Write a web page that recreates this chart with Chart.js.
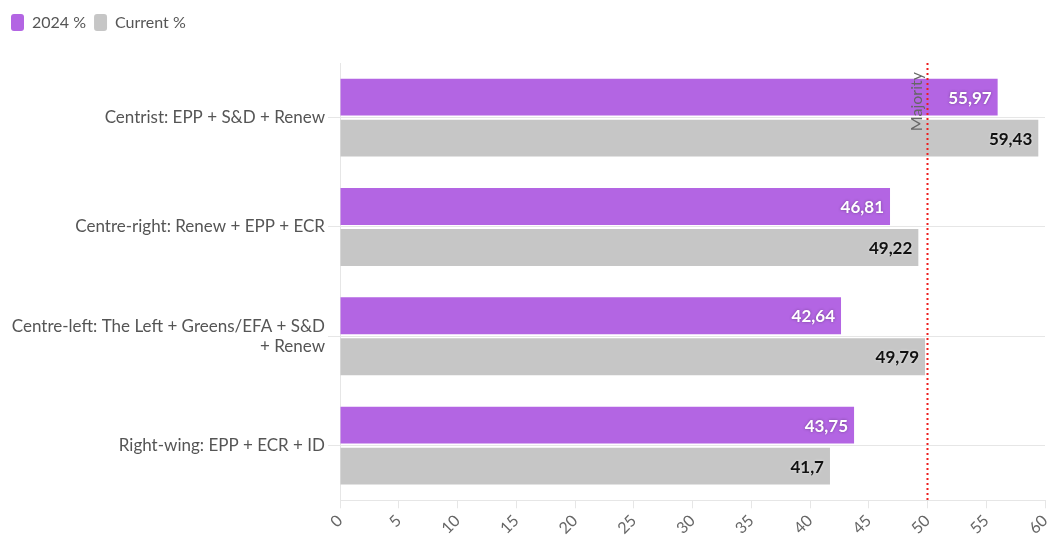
<!DOCTYPE html>
<html>
<head>
<meta charset="utf-8">
<script src="https://cdn.jsdelivr.net/npm/chart.js@4"></script>
<style>
  html, body { margin: 0; padding: 0; background: #fff; }
  #wrap { width: 1051px; height: 547px; position: relative; }
</style>
</head>
<body>
<div id="wrap"><canvas id="chart"></canvas></div>
<script>
const categories = [
  'Centrist: EPP + S&D + Renew',
  'Centre-right: Renew + EPP + ECR',
  ['Centre-left: The Left + Greens/EFA + S&D', '+ Renew'],
  'Right-wing: EPP + ECR + ID'
];
const values2024 = [55.97, 46.81, 42.64, 43.75];
const valuesCurrent = [59.43, 49.22, 49.79, 41.7];
const majority = 50;

const fmt = v => String(v).replace('.', ',');

// value labels inside the bar ends
const barLabels = {
  id: 'barLabels',
  afterDatasetsDraw(chart) {
    const ctx = chart.ctx;
    ctx.save();
    ctx.font = 'bold 17px Lato';
    ctx.textAlign = 'right';
    ctx.textBaseline = 'middle';
    chart.data.datasets.forEach((ds, i) => {
      chart.getDatasetMeta(i).data.forEach((bar, j) => {
        if (i === 0) {
          ctx.fillStyle = '#ffffff';
          ctx.shadowColor = 'rgba(0,0,0,0.35)';
          ctx.shadowBlur = 3;
        } else {
          ctx.fillStyle = '#111111';
          ctx.shadowColor = 'rgba(255,255,255,0.6)';
          ctx.shadowBlur = 3;
        }
        ctx.fillText(fmt(ds.data[j]), bar.x - 6, bar.y + 1);
      });
    });
    ctx.restore();
  }
};

// dotted red majority line
const majorityLine = {
  id: 'majorityLine',
  afterDatasetsDraw(chart) {
    const ctx = chart.ctx;
    const x = chart.scales.x.getPixelForValue(majority);
    const area = chart.chartArea;
    ctx.save();
    ctx.strokeStyle = '#ee1c1c';
    ctx.lineWidth = 2;
    ctx.setLineDash([2, 3]);
    ctx.beginPath();
    ctx.moveTo(x, area.top);
    ctx.lineTo(x, area.bottom);
    ctx.stroke();
    ctx.setLineDash([]);
    ctx.translate(x - 3, area.top + 9);
    ctx.rotate(-Math.PI / 2);
    ctx.font = '16px Lato';
    ctx.fillStyle = '#666';
    ctx.textAlign = 'right';
    ctx.textBaseline = 'bottom';
    ctx.fillText('Majority', 0, 0);
    ctx.restore();
  }
};

// extra room under the legend
const legendGap = {
  id: 'legendGap',
  beforeInit(chart) {
    const fit = chart.legend.fit;
    chart.legend.fit = function () {
      fit.bind(chart.legend)();
      this.height += 22;
    };
  }
};

new Chart(document.getElementById('chart'), {
  type: 'bar',
  data: {
    labels: categories,
    datasets: [{
      label: '2024 %',
      data: values2024,
      backgroundColor: '#b365e3',
      categoryPercentage: 0.75,
      barPercentage: 0.9
    }, {
      label: 'Current %',
      data: valuesCurrent,
      backgroundColor: '#c6c6c6',
      categoryPercentage: 0.75,
      barPercentage: 0.9
    }]
  },
  options: {
    indexAxis: 'y',
    responsive: true,
    maintainAspectRatio: false,
    animation: false,
    layout: { padding: { left: 3, right: 0, top: 6, bottom: 6 } },
    plugins: {
      legend: {
        position: 'top',
        align: 'start',
        labels: {
          boxWidth: 13,
          boxHeight: 17,
          useBorderRadius: true,
          borderRadius: 3,
          color: '#555',
          font: { family: 'Lato', size: 16 },
          padding: 8
        }
      },
      tooltip: { enabled: false }
    },
    scales: {
      x: {
        min: 0,
        max: 60,
        ticks: {
          stepSize: 5,
          color: '#666',
          font: { family: 'Lato', size: 16 },
          maxRotation: 45,
          minRotation: 45
        },
        grid: { drawOnChartArea: false, drawTicks: true, tickLength: 8, color: '#e6e6e6' },
        border: { display: true, color: '#e6e6e6' },
        afterFit(scale) { scale.paddingRight = 6; }
      },
      y: {
        ticks: {
          color: '#555',
          font: { family: 'Lato', size: 17 },
          padding: 3
        },
        grid: { offset: false, color: '#e6e6e6', tickLength: 12 },
        border: { display: true, color: '#e6e6e6' },
        afterFit(scale) { scale.width = 337; }
      }
    }
  },
  plugins: [barLabels, majorityLine, legendGap]
});
</script>
</body>
</html>
